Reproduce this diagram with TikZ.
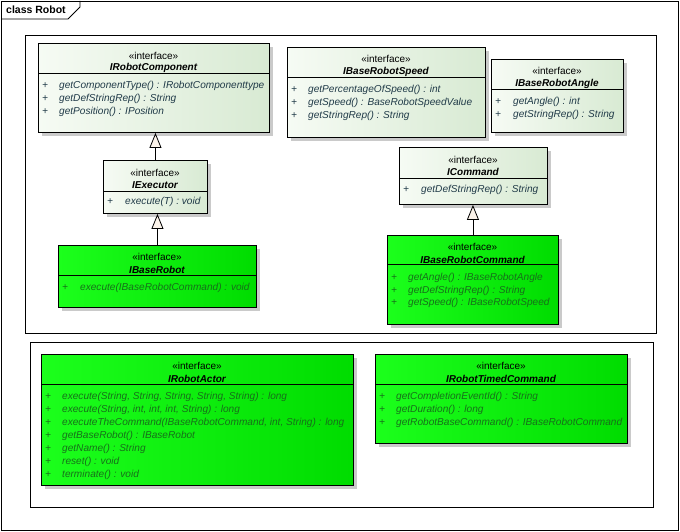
\documentclass[tikz,border=0pt]{standalone}
\usepackage{fontspec}
\setmainfont{Liberation Sans}
\usetikzlibrary{arrows.meta,shadows}
\definecolor{paleleft}{HTML}{F6FBF4}
\definecolor{paleright}{HTML}{D8EAD3}
\definecolor{brightleft}{HTML}{1CFF1C}
\definecolor{brightright}{HTML}{00DC00}
\definecolor{optext}{HTML}{203A48}
\definecolor{opgreen}{HTML}{17701A}
\definecolor{tipfill}{HTML}{FBF3EA}
\begin{document}
\begin{tikzpicture}[x=1pt,y=-1pt,
  every node/.style={inner sep=0pt},
  ifbox/.style={draw=black, line width=0.9pt, anchor=north west,
    general shadow={fill=black!35, opacity=0.6, shadow xshift=4pt, shadow yshift=-4pt}},
  pale/.style={ifbox, shading angle=135, left color=paleleft, right color=paleright},
  bright/.style={ifbox, shading angle=135, left color=brightleft, right color=brightright},
  stereo/.style={font=\fontsize{10}{12}\selectfont},
  ifname/.style={font=\fontsize{10}{12}\selectfont\bfseries\itshape},
  op/.style={anchor=west, text=optext, font=\fontsize{10.1}{12}\selectfont\itshape},
  opg/.style={op, text=opgreen},
  realize/.style={line width=0.8pt, -{Triangle[open, width=12pt, length=15pt, fill=tipfill]}}]
\useasboundingbox (0,0) rectangle (680,532);
% frame
\draw [line width=0.8pt] (1,1) rectangle (678,530);
\draw [line width=0.8pt] (1,19) -- (68,19) -- (80,7) -- (80,1);
\node [anchor=west, font=\fontsize{10.5}{12}\selectfont\bfseries] (title) at (6,10) {class Robot};
% packages
\draw [line width=0.8pt] (25,35) rectangle (656,333);
\draw [line width=0.8pt] (30,342) rectangle (653,507);
% IRobotComponent
\node [pale, minimum width=231pt, minimum height=89pt] (comp) at (38,43) {};
\draw (38,73) -- (269,73);
\node [stereo] at (153.5,55.5) {«interface»};
\node [ifname] at (153.5,68) {IRobotComponent};
\node [op] at (42,86) {+};
\node [op] at (59,86) {getComponentType() : IRobotComponenttype};
\node [op] at (42,99) {+};
\node [op] at (59,99) {getDefStringRep() : String};
\node [op] at (42,112) {+};
\node [op] at (59,112) {getPosition() : IPosition};
% IExecutor
\node [pale, minimum width=104pt, minimum height=53pt] (exec) at (103,160) {};
\draw (103,191) -- (207,191);
\node [stereo] at (155,173) {«interface»};
\node [ifname] at (155,185) {IExecutor};
\node [op] at (107,202) {+};
\node [op] at (125,202) {execute(T) : void};
% IBaseRobot
\node [bright, minimum width=198pt, minimum height=62pt] (base) at (58,245) {};
\draw (58,275) -- (256,275);
\node [stereo] at (157,257) {«interface»};
\node [ifname] at (157,269.5) {IBaseRobot};
\node [opg] at (62,288) {+};
\node [opg] at (80,288) {execute(IBaseRobotCommand) : void};
% IBaseRobotSpeed
\node [pale, minimum width=198pt, minimum height=90pt] (speed) at (287,47) {};
\draw (287,77) -- (485,77);
\node [stereo] at (386,59) {«interface»};
\node [ifname] at (386,72) {IBaseRobotSpeed};
\node [op] at (291,90) {+};
\node [op] at (308,90) {getPercentageOfSpeed() : int};
\node [op] at (291,103) {+};
\node [op] at (308,103) {getSpeed() : BaseRobotSpeedValue};
\node [op] at (291,116) {+};
\node [op] at (308,116) {getStringRep() : String};
% IBaseRobotAngle
\node [pale, minimum width=132pt, minimum height=73pt] (angle) at (491,59) {};
\draw (491,89) -- (623,89);
\node [stereo] at (557,71) {«interface»};
\node [ifname] at (557,84) {IBaseRobotAngle};
\node [op] at (495,102) {+};
\node [op] at (513,102) {getAngle() : int};
\node [op] at (495,115) {+};
\node [op] at (513,115) {getStringRep() : String};
% ICommand
\node [pale, minimum width=148pt, minimum height=57pt] (cmd) at (399,147) {};
\draw (399,178) -- (547,178);
\node [stereo] at (473,159.5) {«interface»};
\node [ifname] at (473,172) {ICommand};
\node [op] at (403,190) {+};
\node [op] at (421,190) {getDefStringRep() : String};
% IBaseRobotCommand
\node [bright, minimum width=171pt, minimum height=89pt] (robcmd) at (387,235) {};
\draw (387,264) -- (558,264);
\node [stereo] at (472.5,247) {«interface»};
\node [ifname] at (472.5,259.5) {IBaseRobotCommand};
\node [opg] at (391,278) {+};
\node [opg] at (408,278) {getAngle() : IBaseRobotAngle};
\node [opg] at (391,291) {+};
\node [opg] at (408,291) {getDefStringRep() : String};
\node [opg] at (391,303) {+};
\node [opg] at (408,303) {getSpeed() : IBaseRobotSpeed};
% IRobotActor
\node [bright, minimum width=312pt, minimum height=131pt] (actor) at (41,354) {};
\draw (41,384) -- (353,384);
\node [stereo] at (197,366) {«interface»};
\node [ifname] at (197,378.5) {IRobotActor};
\node [opg] at (45,397) {+};
\node [opg] at (62,397) {execute(String, String, String, String, String) : long};
\node [opg] at (45,410) {+};
\node [opg] at (62,410) {execute(String, int, int, int, String) : long};
\node [opg] at (45,423) {+};
\node [opg] at (62,423) {executeTheCommand(IBaseRobotCommand, int, String) : long};
\node [opg] at (45,436) {+};
\node [opg] at (62,436) {getBaseRobot() : IBaseRobot};
\node [opg] at (45,449) {+};
\node [opg] at (62,449) {getName() : String};
\node [opg] at (45,462) {+};
\node [opg] at (62,462) {reset() : void};
\node [opg] at (45,475) {+};
\node [opg] at (62,475) {terminate() : void};
% IRobotTimedCommand
\node [bright, minimum width=252pt, minimum height=89pt] (timed) at (375,354) {};
\draw (375,384) -- (627,384);
\node [stereo] at (501,366) {«interface»};
\node [ifname] at (501,378.5) {IRobotTimedCommand};
\node [opg] at (379,397) {+};
\node [opg] at (396,397) {getCompletionEventId() : String};
\node [opg] at (379,410) {+};
\node [opg] at (396,410) {getDuration() : long};
\node [opg] at (379,423) {+};
\node [opg] at (396,423) {getRobotBaseCommand() : IBaseRobotCommand};
% realizations
\draw [realize] (exec.north) -- (exec.north |- comp.south);
\draw [realize] (base.north) -- (base.north |- exec.south);
\draw [realize] (robcmd.north) -- (robcmd.north |- cmd.south);
\end{tikzpicture}
\end{document}
